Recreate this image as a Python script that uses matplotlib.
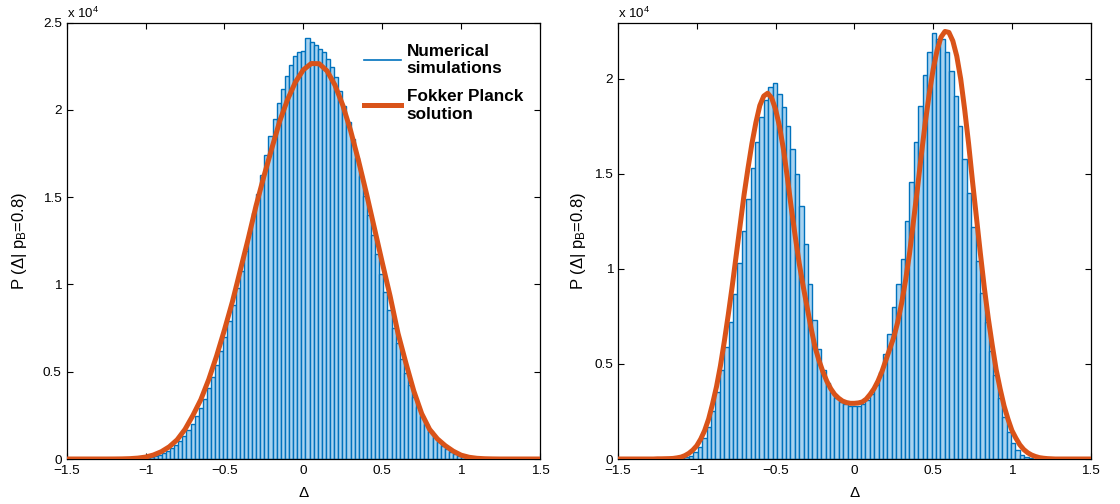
import numpy as np
import matplotlib
matplotlib.use("Agg")
import matplotlib.pyplot as plt
from matplotlib.lines import Line2D
from matplotlib.ticker import FuncFormatter

plt.rcParams['font.family'] = ['Liberation Sans', 'DejaVu Sans']
plt.rcParams['mathtext.fontset'] = 'custom'
plt.rcParams['mathtext.rm'] = 'Liberation Sans'
plt.rcParams['mathtext.it'] = 'Liberation Sans:italic'
plt.rcParams['mathtext.default'] = 'rm'

# ---------------- data (counts in units of 1e4) ----------------
left_bin_width = 0.026
left_bin_centers = np.arange(-49, 50) * left_bin_width
left_hist = [
    0, 0, 0, 0, 0.0001, 0.0002, 0.0005, 0.0009, 0.0016, 0.0028,
    0.0045, 0.007, 0.011, 0.017, 0.025, 0.035, 0.048, 0.064, 0.083, 0.106,
    0.134, 0.166, 0.203, 0.245, 0.29, 0.345, 0.405, 0.47, 0.54, 0.62,
    0.70, 0.79, 0.88, 0.98, 1.08, 1.19, 1.30, 1.41, 1.52, 1.63,
    1.744, 1.849, 1.946, 2.04, 2.12, 2.196, 2.258, 2.31, 2.33,
    2.335,
    2.41, 2.39, 2.37, 2.35, 2.33, 2.29, 2.245, 2.19, 2.11, 2.025,
    1.93, 1.833, 1.727, 1.622, 1.508, 1.398, 1.284, 1.172, 1.062, 0.955,
    0.852, 0.752, 0.662, 0.574, 0.495, 0.422, 0.355, 0.296, 0.244, 0.198,
    0.160, 0.126, 0.098, 0.075, 0.056, 0.040, 0.029, 0.0195, 0.013, 0.008,
    0.005, 0.0028, 0.0016, 0.0008, 0.0004, 0.0002, 0.0001, 0, 0,
]

left_curve_x = np.linspace(-1.5, 1.5, 61)
left_fp = [
    0, 0, 0, 0, 0, 0,
    0.0002, 0.0007, 0.002, 0.005, 0.011, 0.023, 0.042, 0.07, 0.11, 0.17,
    0.25, 0.34, 0.455, 0.59, 0.74, 0.90, 1.08, 1.26, 1.45, 1.62,
    1.78, 1.935, 2.06, 2.16,
    2.23,
    2.266, 2.265, 2.224, 2.143, 2.027, 1.88, 1.708, 1.521, 1.324, 1.126,
    0.933, 0.72, 0.55, 0.39, 0.26, 0.17, 0.115, 0.076, 0.045, 0.022,
    0.010, 0.004, 0.0015, 0.0005,
    0, 0, 0, 0, 0, 0,
]

right_bin_width = 0.028
right_bin_centers = np.arange(-49, 50) * right_bin_width
right_hist = [
    0, 0, 0, 0, 0, 0, 0, 0,
    0.0003, 0.001, 0.003, 0.008, 0.017, 0.035, 0.065, 0.11, 0.17, 0.25,
    0.35, 0.47, 0.59, 0.72, 0.87, 1.03, 1.20, 1.37, 1.53, 1.67,
    1.80, 1.89, 1.955, 1.98, 1.92, 1.85, 1.75, 1.63, 1.50, 1.33,
    1.13, 0.92, 0.73, 0.58, 0.47, 0.40, 0.35, 0.32, 0.30, 0.29, 0.28,
    0.28,
    0.28, 0.29, 0.31, 0.34, 0.39, 0.46, 0.55, 0.66, 0.80, 0.92,
    1.05, 1.25, 1.46, 1.67, 1.86, 2.02, 2.14, 2.24, 2.21, 2.21,
    2.14, 2.04, 1.91, 1.75, 1.58, 1.40, 1.22, 1.04, 0.876, 0.72,
    0.57, 0.44, 0.32, 0.22, 0.14, 0.085, 0.045, 0.022, 0.01, 0.004,
    0.0015, 0.0005,
    0, 0, 0, 0, 0, 0, 0,
]

right_curve_x = np.linspace(-1.5, 1.5, 121)
right_fp = [
    0, 0, 0, 0, 0, 0, 0, 0, 0, 0,
    0.001, 0.001, 0.0015, 0.002, 0.003, 0.006, 0.01, 0.018, 0.03, 0.047,
    0.07, 0.105, 0.15, 0.21, 0.29, 0.38, 0.49, 0.62, 0.76, 0.91,
    1.07, 1.23, 1.39, 1.53, 1.66, 1.77, 1.86, 1.91, 1.925, 1.90,
    1.84, 1.75, 1.63, 1.48, 1.32, 1.17, 1.03, 0.91, 0.80, 0.69,
    0.59, 0.52, 0.46, 0.41, 0.37, 0.34, 0.32, 0.305, 0.297, 0.293,
    0.293, 0.295, 0.30, 0.315, 0.34, 0.37, 0.41, 0.46, 0.52, 0.58,
    0.64, 0.72, 0.82, 0.94, 1.08, 1.25, 1.42, 1.60, 1.77, 1.92,
    2.05, 2.15, 2.22, 2.25, 2.245, 2.20, 2.12, 2.00, 1.84, 1.66,
    1.46, 1.27, 1.08, 0.90, 0.74, 0.60, 0.47, 0.37, 0.28, 0.21,
    0.15, 0.11, 0.075, 0.05, 0.033, 0.021, 0.013, 0.007, 0.004, 0.002,
    0.001, 0, 0, 0, 0, 0, 0, 0, 0, 0,
    0,
]

x_ticks = [-1.5, -1, -0.5, 0, 0.5, 1, 1.5]
left_yticks = [0, 0.5, 1, 1.5, 2, 2.5]
right_yticks = [0, 0.5, 1, 1.5, 2]
legend_labels = ["Numerical\nsimulations", "Fokker Planck\nsolution"]

# ---------------- styling ----------------
BLUE = '#0072BD'
BAR_FACE = '#a8d3f0'
ORANGE = '#D95319'

fig = plt.figure(figsize=(11.2, 5.04), dpi=100)
axL = fig.add_axes([66.7 / 1120, 45 / 504, 473.3 / 1120, 436.3 / 504])
axR = fig.add_axes([618 / 1120, 45 / 504, 472.7 / 1120, 436.3 / 504])

fmt = FuncFormatter(lambda v, p: ('%g' % v).replace('-', '\u2212'))


def style(ax, ymax, yticks, ylabel_x):
    ax.set_xlim(-1.5, 1.5)
    ax.set_ylim(0, ymax)
    ax.set_xticks(x_ticks)
    ax.set_yticks(yticks)
    ax.xaxis.set_major_formatter(fmt)
    ax.yaxis.set_major_formatter(fmt)
    ax.tick_params(direction='in', top=True, right=True, length=4,
                   width=0.8, labelsize=9.7, colors='black')
    ax.tick_params(axis='x', pad=4.5)
    ax.tick_params(axis='y', pad=3.5)
    for s in ax.spines.values():
        s.set_linewidth(0.9)
        s.set_color('black')
    ax.set_xlabel('\u0394', fontsize=11)
    ax.xaxis.set_label_coords(0.5, -0.062)
    ax.set_ylabel('P (\u0394| p$_\\mathrm{B}$=0.8)', fontsize=12)
    ax.yaxis.set_label_coords(ylabel_x, 0.5)
    ax.text(0, 1.005, 'x 10$^{4}$', transform=ax.transAxes,
            ha='left', va='bottom', fontsize=9.5)


for ax, centers, hist, width, cx, fp, ymax, yt, ylx in [
        (axL, left_bin_centers, left_hist, left_bin_width, left_curve_x,
         left_fp, 2.5, left_yticks, -0.079),
        (axR, right_bin_centers, right_hist, right_bin_width, right_curve_x,
         right_fp, 2.296, right_yticks, -0.064)]:
    ax.bar(centers, hist, width=width, facecolor=BAR_FACE, edgecolor=BLUE,
           linewidth=1.0, zorder=2)
    ax.plot(cx, fp, color=ORANGE, linewidth=3.6, zorder=3,
            solid_capstyle='round', solid_joinstyle='round')
    style(ax, ymax, yt, ylx)

handles = [Line2D([], [], color=BLUE, linewidth=1.2),
           Line2D([], [], color=ORANGE, linewidth=3.6)]
fig.legend(handles, legend_labels, loc='upper left',
           bbox_to_anchor=(364 / 1120, 1 - 44 / 504),
           bbox_transform=fig.transFigure, frameon=False,
           prop={'weight': 'bold', 'size': 12.3}, handlelength=2.15,
           handletextpad=0.35, labelspacing=0.75, borderpad=0,
           borderaxespad=0)

fig.savefig('out.png', dpi=100)
